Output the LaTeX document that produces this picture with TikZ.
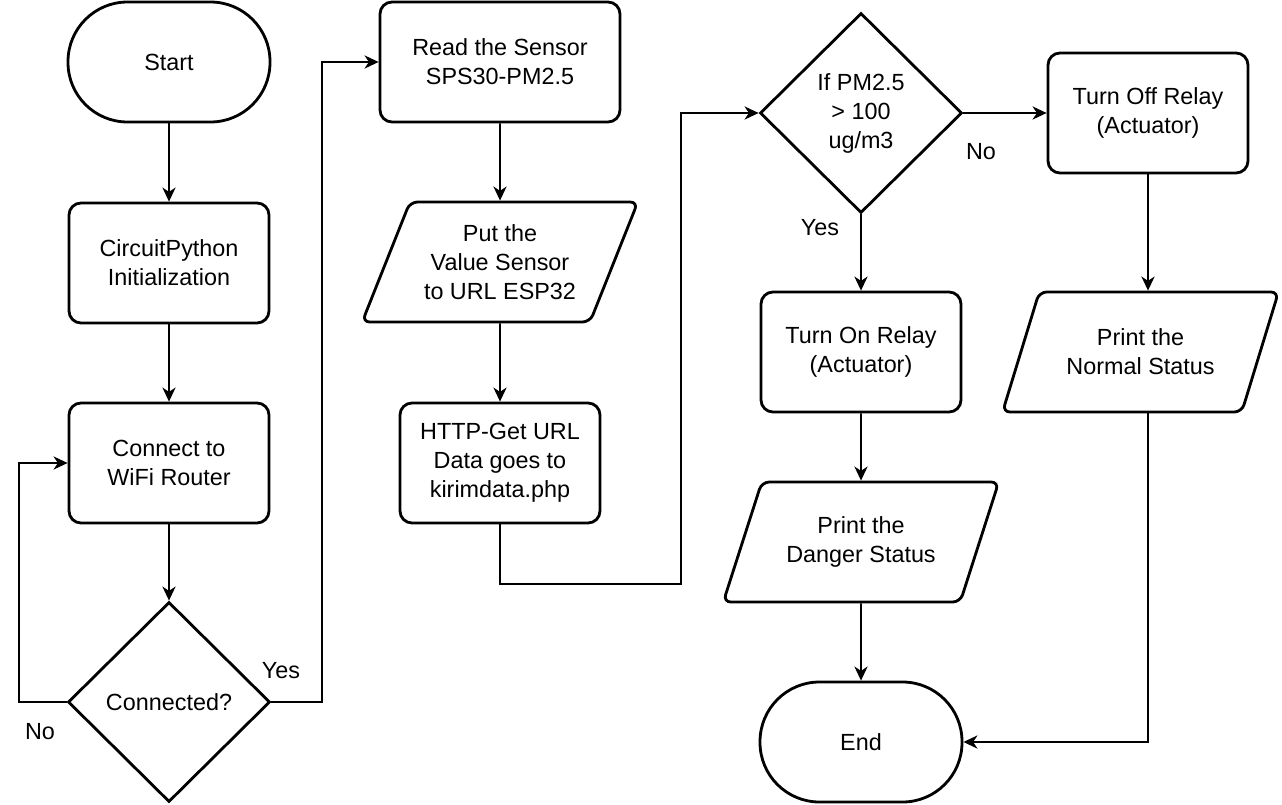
\documentclass[tikz,border=0pt]{standalone}
\usepackage{fontspec}
\setmainfont{Liberation Sans}
\usetikzlibrary{shapes.geometric, arrows.meta, positioning}
\tikzstyle{startstop} = [rectangle, rounded corners=1.19cm, minimum width=4.04cm, minimum height=2.4cm, align=center, draw=black, line width=1.6pt]
\tikzstyle{process}   = [rectangle, rounded corners=0.24cm, minimum width=4cm, minimum height=2.4cm, align=center, draw=black, line width=1.6pt]
\tikzstyle{io}        = [trapezium, trapezium left angle=63.43, trapezium right angle=116.57, trapezium stretches=true, rounded corners=0.15cm, minimum width=5.52cm, minimum height=2.4cm, align=center, draw=black, line width=1.6pt]
\tikzstyle{decision}  = [diamond, aspect=1, minimum width=4.04cm, minimum height=4cm, inner sep=0pt, align=center, draw=black, line width=1.6pt]
\tikzstyle{arrow}     = [line width=1.1pt, -{Stealth[length=8pt,width=7.5pt,inset=2.5pt]}]
\tikzstyle{answer}    = [inner sep=0pt]

\begin{document}
\begin{tikzpicture}[font=\fontsize{13.3}{16.5}\selectfont]
      \useasboundingbox (0,0) rectangle (25.64,-16.08);
      % Nodes
      %% Connection column
      \node (start)      [startstop] at (3.38,-1.24)                          {Start};
      \node (init)       [process, below of=start, yshift=-3.02cm]            {CircuitPython\\Initialization};
      \node (wifi)       [process, below of=init, yshift=-3cm]                {Connect to\\WiFi Router};
      \node (connected)  [decision, below of=wifi, yshift=-3.78cm]            {Connected?};
      %% Sensor column
      \node (read)       [process, minimum width=4.8cm, right of=start, xshift=5.62cm]  {Read the Sensor\\SPS30-PM2.5};
      \node (put)        [io, below of=read, yshift=-3cm]                     {Put the\\Value Sensor\\to URL ESP32};
      \node (http)       [process, below of=put, yshift=-3.02cm]              {HTTP-Get URL\\Data goes to\\kirimdata.php};
      %% Relay columns
      \node (check_pm)   [decision, right of=read, xshift=6.22cm, yshift=-1.02cm]       {If PM2.5\\> 100\\ug/m3};
      \node (relay_on)   [process, below of=check_pm, yshift=-3.78cm]         {Turn On Relay\\(Actuator)};
      \node (danger)     [io, below of=relay_on, yshift=-2.8cm]               {Print the\\Danger Status};
      \node (end)        [startstop, below of=danger, yshift=-3cm]            {End};
      \node (relay_off)  [process, right of=check_pm, xshift=4.74cm]          {Turn Off Relay\\(Actuator)};
      \node (normal)     [io, below of=relay_off, xshift=-0.15cm, yshift=-3.78cm]       {Print the\\Normal Status};
      %% Answers
      \node (yes_connected) [answer, right of=connected, xshift=1.24cm, yshift=0.62cm]   {Yes};
      \node (no_connected)  [answer, left of=connected, xshift=-1.58cm, yshift=-0.6cm]   {No};
      \node (yes_pm)        [answer, below of=check_pm, xshift=-0.82cm, yshift=-1.3cm]   {Yes};
      \node (no_pm)         [answer, right of=check_pm, xshift=1.4cm, yshift=-0.78cm]    {No};

      % % Arrows
      \draw [arrow] (start)                -- (init);
      \draw [arrow] (init)                 -- (wifi);
      \draw [arrow] (wifi)                 -- (connected);
      \draw [arrow] (connected.west)       -- ++(-0.96,0)  |- (wifi.west);
      \draw [arrow] (connected.east)       -- ++(1.02,0)   |- (read.west);
      \draw [arrow] (read)                 -- (put);
      \draw [arrow] (put)                  -- (http);
      \draw [arrow] (http.south)           |- ++(3.62,-1.2) |- (check_pm.west);
      \draw [arrow] (check_pm)             -- (relay_on);
      \draw [arrow] (check_pm.east)        -- (relay_off.west);
      \draw [arrow] (relay_on)             -- (danger);
      \draw [arrow] (danger)               -- (end);
      \draw [arrow] (relay_off.south)      -- (relay_off.south |- normal.north);
      \draw [arrow] (normal.south -| relay_off) |- (end.east);
    \end{tikzpicture}
\end{document}
